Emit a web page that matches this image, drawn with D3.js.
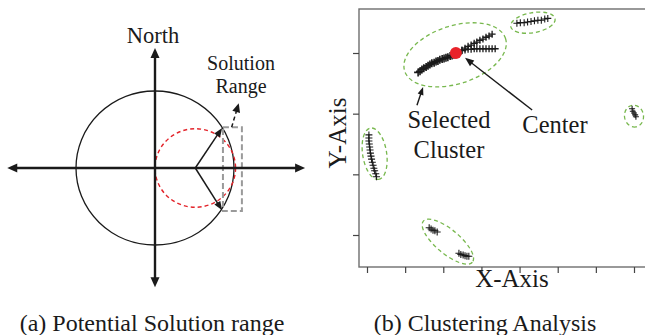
<!DOCTYPE html>
<html>
<head>
<meta charset="utf-8">
<script src="https://cdn.jsdelivr.net/npm/d3@7"></script>
<style>
  html, body { margin: 0; padding: 0; background: #fff; }
  svg { display: block; font-family: "Liberation Serif", "Times New Roman", serif; }
</style>
</head>
<body>
<svg id="chart" width="645" height="335"></svg>
<script>
// ---------- panel (a): units = radius of the black circle ----------
const axisXExtent = [-1.87, 1.90];
const axisYExtent = [-1.55, 1.56];
const outerCircle = { cx: 0, cy: 0, r: 1 };
const innerCircle = { cx: 0.51, cy: 0, r: 0.51 };
const rangeArrows = [
    { from: [0.51, 0], to: [0.85, 0.52] },
    { from: [0.51, 0], to: [0.85, -0.55] }
];
const solutionBox = { x0: 0.86, x1: 1.10, y0: -0.56, y1: 0.53 };
const solutionPointer = { from: [0.97, 0.53], to: [1.06, 0.84] };

// ---------- panel (b): clustering data ----------
const xTicks = [0, 10, 20, 30, 40, 50, 60, 70];
const yTicks = [10, 20, 30, 40];

const trunkPoints = [
    [13.4, 36.8], [13.9, 37.0], [14.4, 37.3], [14.9, 37.5], [15.5, 37.7], [16.0, 37.9],
    [16.5, 38.1], [17.0, 38.3], [17.6, 38.4], [18.1, 38.6], [18.6, 38.7], [19.1, 38.9],
    [19.7, 39.0], [20.2, 39.1], [20.7, 39.2], [21.2, 39.3], [21.8, 39.5], [22.3, 39.6],
    [22.8, 39.7], [23.3, 39.8], [23.9, 39.9]
];
const upperBranch = [
    [24.9, 40.5], [25.7, 40.8], [26.5, 41.1], [27.3, 41.3], [28.1, 41.6], [28.8, 41.8],
    [29.6, 42.1], [30.4, 42.3], [31.2, 42.6], [32.0, 42.8], [32.8, 43.1]
];
const flatBranch = [
    [24.9, 40.4], [25.7, 40.5], [26.5, 40.6], [27.3, 40.6], [28.1, 40.7], [28.8, 40.7],
    [29.6, 40.7], [30.4, 40.7], [31.2, 40.7], [32.0, 40.7], [32.8, 40.7], [33.6, 40.7]
];
const topCluster = [
    [39.3, 44.9], [40.2, 45.0], [41.2, 45.0], [42.1, 45.1], [43.0, 45.2],
    [43.9, 45.3], [44.8, 45.4], [45.7, 45.4], [46.6, 45.6], [47.4, 45.7]
];
const rightCluster = [[69.5, 30.8], [69.7, 30.4], [70.0, 30.1], [70.3, 29.8], [70.5, 29.5]];
const leftCluster = [
    [0.5, 26.5], [0.5, 26.0], [0.5, 25.5], [0.6, 25.0], [0.7, 24.5], [0.8, 24.0],
    [0.9, 23.5], [1.05, 23.0], [1.2, 22.5], [1.4, 22.0], [1.6, 21.5], [1.8, 21.0],
    [2.0, 20.6], [2.3, 20.1], [2.5, 19.6]
];
const bottomCluster = [
    [16.3, 11.2], [16.8, 11.0], [17.3, 10.8], [17.8, 10.7], [18.4, 10.5],
    [24.1, 7.0], [24.6, 6.8], [25.2, 6.7], [25.7, 6.6], [26.2, 6.5], [26.7, 6.5]
];
const clusterCenter = [23.3, 40.0];

// outline: centre in data units, semi axes (px) and tilt (deg)
const clusterOutlines = [
    { cx: 23.1, cy: 39.7, a: 53, b: 29, angle: -18 },
    { cx: 43.5, cy: 45.0, a: 22.5, b: 10, angle: -10 },
    { cx: 70.0, cy: 29.6, a: 11, b: 9.5, angle: 80 },
    { cx: 2.0, cy: 23.4, a: 26, b: 12, angle: 81 },
    { cx: 21.2, cy: 8.9, a: 32, b: 12, angle: 40 }
];
const centerPointer = { from: [43.3, 30.6], to: [25.7, 39.2] };
const selectedPointer = { from: [13.1, 31.4], to: [14.7, 34.4] };

// ---------- setup ----------
const svg = d3.select('#chart');
const ink = '#1a1a1a';

/**
 * Draw a line with a filled triangular head at `b` (and at `a` if both)
 */
function drawArrow(g, a, b, opts) {
    const dx = b[0] - a[0], dy = b[1] - a[1];
    const L = Math.hypot(dx, dy), ux = dx / L, uy = dy / L;
    const len = opts.head, w = opts.width / 2;
    const start = opts.both ? [a[0] + ux * len * 0.7, a[1] + uy * len * 0.7] : a;
    const end = [b[0] - ux * len * 0.7, b[1] - uy * len * 0.7];

    g.append('line')
        .attr('x1', start[0]).attr('y1', start[1])
        .attr('x2', end[0]).attr('y2', end[1])
        .attr('stroke', ink)
        .attr('stroke-width', opts.stroke)
        .attr('stroke-dasharray', opts.dash || null);

    const head = (tip, vx, vy) => {
        const base = [tip[0] - vx * len, tip[1] - vy * len];
        g.append('path')
            .attr('d', `M${tip[0]},${tip[1]}L${base[0] - vy * w},${base[1] + vx * w}L${base[0] + vy * w},${base[1] - vx * w}Z`)
            .attr('fill', ink);
    };
    head(b, ux, uy);
    if (opts.both) head(a, -ux, -uy);
}

// ---------- panel (a) ----------
const xA = d3.scaleLinear().domain([-1, 1]).range([76, 234]);
const yA = d3.scaleLinear().domain([-1, 1]).range([245, 91]);
const unitX = xA(1) - xA(0), unitY = yA(0) - yA(1);
const gA = svg.append('g');

gA.append('ellipse')
    .attr('cx', xA(outerCircle.cx)).attr('cy', yA(outerCircle.cy))
    .attr('rx', outerCircle.r * unitX).attr('ry', outerCircle.r * unitY)
    .attr('fill', 'none').attr('stroke', ink).attr('stroke-width', 1.3);

gA.append('ellipse')
    .attr('cx', xA(innerCircle.cx)).attr('cy', yA(innerCircle.cy))
    .attr('rx', innerCircle.r * unitX).attr('ry', innerCircle.r * unitY)
    .attr('fill', 'none').attr('stroke', '#e3242b').attr('stroke-width', 1.4)
    .attr('stroke-dasharray', '4,3');

gA.append('rect')
    .attr('x', xA(solutionBox.x0)).attr('y', yA(solutionBox.y1))
    .attr('width', xA(solutionBox.x1) - xA(solutionBox.x0))
    .attr('height', yA(solutionBox.y0) - yA(solutionBox.y1))
    .attr('fill', 'none').attr('stroke', '#9a9a9a').attr('stroke-width', 2)
    .attr('stroke-dasharray', '6,3');

drawArrow(gA, [xA(axisXExtent[0]), yA(0)], [xA(axisXExtent[1]), yA(0)],
    { head: 10, width: 9, stroke: 2.4, both: true });
drawArrow(gA, [xA(0), yA(axisYExtent[0])], [xA(0), yA(axisYExtent[1])],
    { head: 10, width: 9, stroke: 2.4, both: true });

rangeArrows.forEach(d => {
    drawArrow(gA, [xA(d.from[0]), yA(d.from[1])], [xA(d.to[0]), yA(d.to[1])],
        { head: 9, width: 7, stroke: 1.5 });
});
drawArrow(gA, [xA(solutionPointer.from[0]), yA(solutionPointer.from[1])],
    [xA(solutionPointer.to[0]), yA(solutionPointer.to[1])],
    { head: 9, width: 8, stroke: 1.5, dash: '4,3' });

gA.append('text').attr('x', 153).attr('y', 43)
    .attr('text-anchor', 'middle').attr('font-size', 22.5).attr('fill', ink)
    .text('North');
gA.append('text').attr('x', 241).attr('y', 70)
    .attr('text-anchor', 'middle').attr('font-size', 20).attr('fill', ink)
    .text('Solution');
gA.append('text').attr('x', 241).attr('y', 93)
    .attr('text-anchor', 'middle').attr('font-size', 20).attr('fill', ink)
    .text('Range');

// ---------- panel (b) ----------
const plotLeft = 359, plotTop = 9, plotBottom = 267, plotRight = 652;
const xB = d3.scaleLinear().domain([0, 70]).range([367, 634]);
const yB = d3.scaleLinear().domain([10, 40]).range([235, 53]);
const gB = svg.append('g');

gB.append('rect')
    .attr('x', plotLeft).attr('y', plotTop)
    .attr('width', plotRight - plotLeft).attr('height', plotBottom - plotTop)
    .attr('fill', 'none').attr('stroke', '#6e6e6e').attr('stroke-width', 1.4);

const xAxis = gB.append('g')
    .attr('transform', `translate(0,${plotBottom})`)
    .call(d3.axisBottom(xB).tickValues(xTicks).tickSize(6).tickFormat(''));
const yAxis = gB.append('g')
    .attr('transform', `translate(${plotLeft},0)`)
    .call(d3.axisLeft(yB).tickValues(yTicks).tickSize(6).tickFormat(''));
[xAxis, yAxis].forEach(ax => {
    ax.select('.domain').remove();
    ax.selectAll('.tick line').attr('stroke', '#444').attr('stroke-width', 1.2);
});

gB.selectAll('ellipse.outline')
    .data(clusterOutlines)
    .enter()
    .append('ellipse')
    .attr('class', 'outline')
    .attr('transform', d => `translate(${xB(d.cx)},${yB(d.cy)}) rotate(${d.angle})`)
    .attr('rx', d => d.a).attr('ry', d => d.b)
    .attr('fill', 'none').attr('stroke', '#78b84e').attr('stroke-width', 1.3)
    .attr('stroke-dasharray', '4,3');

// heavier markers for the dense selected cluster
const markerGroups = [
    { pts: trunkPoints, size: 4, width: 1.6 },
    { pts: upperBranch, size: 3.5, width: 1.3 },
    { pts: flatBranch, size: 3.5, width: 1.3 },
    { pts: topCluster, size: 3.5, width: 1.1 },
    { pts: rightCluster, size: 3, width: 1.1 },
    { pts: leftCluster, size: 3.5, width: 1.1 },
    { pts: bottomCluster, size: 3.5, width: 1.1 }
];
markerGroups.forEach(grp => {
    gB.append('g').selectAll('path')
        .data(grp.pts)
        .enter()
        .append('path')
        .attr('d', d => {
            const x = xB(d[0]), y = yB(d[1]), s = grp.size;
            return `M${x - s},${y}h${2 * s}M${x},${y - s}v${2 * s}`;
        })
        .attr('stroke', ink).attr('stroke-width', grp.width).attr('fill', 'none');
});

gB.append('circle')
    .attr('cx', xB(clusterCenter[0])).attr('cy', yB(clusterCenter[1]))
    .attr('r', 6).attr('fill', '#e8232a');

drawArrow(gB, [xB(centerPointer.from[0]), yB(centerPointer.from[1])],
    [xB(centerPointer.to[0]), yB(centerPointer.to[1])],
    { head: 9, width: 7, stroke: 1.4 });
drawArrow(gB, [xB(selectedPointer.from[0]), yB(selectedPointer.from[1])],
    [xB(selectedPointer.to[0]), yB(selectedPointer.to[1])],
    { head: 8, width: 6, stroke: 1.4 });

const labelB = (x, y, t, size) => gB.append('text')
    .attr('x', x).attr('y', y)
    .attr('text-anchor', 'middle').attr('font-size', size).attr('fill', ink)
    .text(t);
labelB(449, 128, 'Selected', 24.5);
labelB(449, 158, 'Cluster', 24.5);
labelB(555, 133, 'Center', 24.5);
labelB(512, 287, 'X-Axis', 25);
gB.append('text')
    .attr('transform', 'translate(346,133) rotate(-90)')
    .attr('text-anchor', 'middle').attr('font-size', 25).attr('fill', ink)
    .text('Y-Axis');

// ---------- captions ----------
svg.append('text').attr('x', 152).attr('y', 331)
    .attr('text-anchor', 'middle').attr('font-size', 24).attr('fill', ink)
    .text('(a) Potential Solution range');
svg.append('text').attr('x', 485).attr('y', 331)
    .attr('text-anchor', 'middle').attr('font-size', 24).attr('fill', ink)
    .text('(b) Clustering Analysis');
</script>
</body>
</html>
